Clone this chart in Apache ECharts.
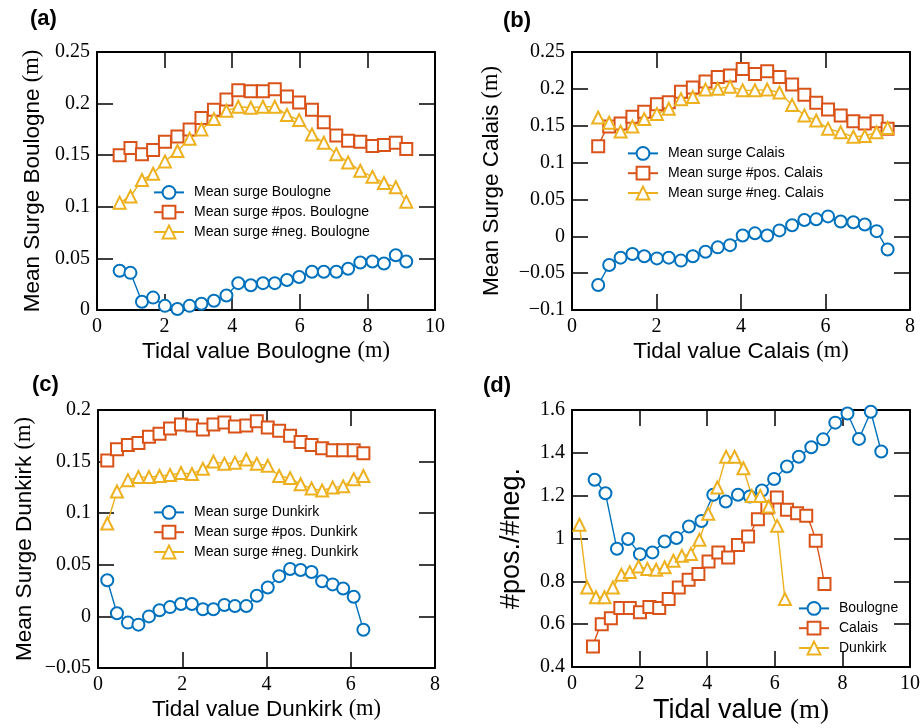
<!DOCTYPE html>
<html>
<head>
<meta charset="utf-8" />
<title>Mean surge vs tidal value</title>
<script src="https://cdn.jsdelivr.net/npm/echarts@6/dist/echarts.min.js"></script>
<style>
  html, body { margin: 0; padding: 0; background: #fff; }
  #main { width: 923px; height: 728px; }
</style>
</head>
<body>
<div id="main"></div>
<script>
// tidal values (m) for each station
var xBoulogne = [0.67, 0.99, 1.33, 1.66, 2.01, 2.38, 2.74, 3.09, 3.46, 3.83, 4.18, 4.55, 4.91, 5.26, 5.62, 5.98, 6.36, 6.71, 7.08, 7.43, 7.79, 8.15, 8.49, 8.84, 9.15];
var xCalais = [0.62, 0.88, 1.15, 1.43, 1.71, 2.01, 2.29, 2.58, 2.86, 3.16, 3.45, 3.74, 4.04, 4.33, 4.62, 4.91, 5.21, 5.5, 5.78, 6.06, 6.36, 6.66, 6.93, 7.21, 7.47];
var xDunkirk = [0.22, 0.45, 0.71, 0.96, 1.21, 1.46, 1.71, 1.97, 2.23, 2.49, 2.74, 3.0, 3.25, 3.52, 3.77, 4.03, 4.3, 4.56, 4.81, 5.07, 5.32, 5.57, 5.82, 6.07, 6.3];

// (a) Boulogne
var meanB = [0.038, 0.036, 0.008, 0.012, 0.004, 0.001, 0.004, 0.006, 0.009, 0.014, 0.026, 0.024, 0.026, 0.026, 0.029, 0.032, 0.037, 0.037, 0.037, 0.040, 0.046, 0.047, 0.045, 0.053, 0.047];
var posB = [0.150, 0.157, 0.151, 0.155, 0.163, 0.168, 0.175, 0.186, 0.194, 0.204, 0.213, 0.212, 0.212, 0.214, 0.207, 0.201, 0.194, 0.182, 0.169, 0.164, 0.163, 0.159, 0.160, 0.162, 0.156];
var negB = [0.104, 0.110, 0.126, 0.132, 0.144, 0.154, 0.166, 0.175, 0.185, 0.193, 0.197, 0.196, 0.197, 0.197, 0.189, 0.184, 0.170, 0.162, 0.151, 0.143, 0.135, 0.129, 0.123, 0.119, 0.105];

// (b) Calais
var meanC = [-0.066, -0.039, -0.029, -0.024, -0.027, -0.030, -0.029, -0.033, -0.027, -0.021, -0.015, -0.012, 0.001, 0.004, 0.001, 0.008, 0.015, 0.022, 0.023, 0.027, 0.020, 0.019, 0.016, 0.007, -0.018];
var posC = [0.122, 0.149, 0.153, 0.162, 0.169, 0.179, 0.182, 0.196, 0.202, 0.210, 0.216, 0.218, 0.227, 0.220, 0.224, 0.216, 0.206, 0.192, 0.181, 0.172, 0.164, 0.156, 0.153, 0.156, 0.146];
var negC = [0.161, 0.154, 0.142, 0.149, 0.159, 0.166, 0.173, 0.186, 0.189, 0.199, 0.200, 0.203, 0.198, 0.198, 0.199, 0.195, 0.178, 0.164, 0.157, 0.146, 0.141, 0.135, 0.136, 0.141, 0.147];

// (c) Dunkirk
var meanD = [0.035, 0.003, -0.006, -0.008, 0.000, 0.006, 0.009, 0.012, 0.012, 0.007, 0.007, 0.011, 0.010, 0.010, 0.020, 0.028, 0.039, 0.046, 0.045, 0.043, 0.034, 0.031, 0.027, 0.019, -0.013];
var posD = [0.151, 0.162, 0.166, 0.168, 0.174, 0.177, 0.182, 0.186, 0.185, 0.181, 0.186, 0.188, 0.184, 0.185, 0.189, 0.183, 0.180, 0.175, 0.169, 0.166, 0.163, 0.161, 0.161, 0.161, 0.158];
var negD = [0.090, 0.121, 0.132, 0.135, 0.135, 0.136, 0.137, 0.139, 0.138, 0.143, 0.150, 0.148, 0.149, 0.152, 0.148, 0.146, 0.136, 0.134, 0.128, 0.124, 0.122, 0.125, 0.126, 0.133, 0.136];

// (d) #pos./#neg.
var ratioB = [1.274, 1.211, 0.952, 0.998, 0.927, 0.935, 0.986, 1.002, 1.056, 1.082, 1.204, 1.173, 1.204, 1.196, 1.224, 1.278, 1.336, 1.382, 1.426, 1.463, 1.541, 1.584, 1.465, 1.592, 1.406];
var ratioC = [0.496, 0.600, 0.628, 0.675, 0.675, 0.656, 0.680, 0.675, 0.717, 0.771, 0.807, 0.834, 0.893, 0.935, 0.911, 0.970, 1.009, 1.090, 1.145, 1.191, 1.134, 1.118, 1.106, 0.989, 0.787];
var ratioD = [1.064, 0.771, 0.726, 0.726, 0.771, 0.831, 0.843, 0.869, 0.858, 0.854, 0.866, 0.896, 0.919, 0.928, 0.994, 1.115, 1.238, 1.382, 1.382, 1.328, 1.199, 1.199, 1.149, 1.059, 0.717];

var BLUE = '#0072BD', ORANGE = '#D95319', YELLOW = '#EDB120';
var SANS = '"Liberation Sans", Arial, sans-serif';
var SERIF = '"Liberation Serif", "Times New Roman", serif';

// grid boxes + axis ranges
var panels = [
    { left: 97, top: 52, width: 338, height: 258, xmax: 10, ymin: 0, ymax: 0.25, yint: 0.05,
      xname: 'Tidal value Boulogne ', yname: 'Mean Surge Boulogne ', ygap: 53, fs: 22.5 },
    { left: 572, top: 52, width: 338, height: 258, xmax: 8, ymin: -0.1, ymax: 0.25, yint: 0.05,
      xname: 'Tidal value Calais ', yname: 'Mean Surge Calais ', ygap: 69, fs: 22.5 },
    { left: 98, top: 410, width: 337, height: 258, xmax: 8, ymin: -0.05, ymax: 0.2, yint: 0.05,
      xname: 'Tidal value Dunkirk ', yname: 'Mean Surge Dunkirk ', ygap: 62, fs: 22.5 },
    { left: 572, top: 410, width: 338, height: 257, xmax: 10, ymin: 0.4, ymax: 1.6, yint: 0.2,
      xname: 'Tidal value ', yname: '#pos./#neg.', ygap: 47, fs: 27 }
];

function fmt(v) {
    return String(+v.toFixed(2)).replace('-', '\u2212');
}

function axisBase(show) {
    return {
        type: 'value',
        axisLine: { show: true, onZero: false, lineStyle: { color: '#000', width: 2 } },
        axisTick: { show: true, inside: true, length: 16, lineStyle: { color: '#000', width: 1.5 } },
        axisLabel: { show: show, color: '#000', fontFamily: SERIF, fontSize: 20, margin: 7, formatter: fmt },
        splitLine: { show: false }
    };
}

var grids = [], xAxes = [], yAxes = [];
panels.forEach(function (p, g) {
    grids.push({ left: p.left, top: p.top, width: p.width, height: p.height, outerBoundsMode: 'none' });
    var rich = {
        s: { fontFamily: SANS, fontSize: p.fs, color: '#000' },
        m: { fontFamily: SERIF, fontSize: p.fs, color: '#000' }
    };
    var xb = axisBase(true);
    Object.assign(xb, { gridIndex: g, position: 'bottom', min: 0, max: p.xmax, interval: 2,
        name: '{s|' + p.xname + '}{m|(m)}', nameLocation: 'middle', nameGap: 30,
        nameTextStyle: { rich: rich } });
    var xt = axisBase(false);
    Object.assign(xt, { gridIndex: g, position: 'top', min: 0, max: p.xmax, interval: 2 });
    var yl = axisBase(true);
    var yn = g === 3 ? '{s|' + p.yname + '}' : '{s|' + p.yname + '}{m|(m)}';
    Object.assign(yl, { gridIndex: g, position: 'left', min: p.ymin, max: p.ymax, interval: p.yint,
        name: yn, nameLocation: 'middle', nameGap: p.ygap, nameTextStyle: { rich: rich } });
    var yr = axisBase(false);
    Object.assign(yr, { gridIndex: g, position: 'right', min: p.ymin, max: p.ymax, interval: p.yint });
    xAxes.push(xb, xt);
    yAxes.push(yl, yr);
});

function mk(name, xs, ys, color, symbol, g, smooth) {
    return {
        type: 'line',
        name: name,
        xAxisIndex: g * 2,
        yAxisIndex: g * 2,
        data: xs.map(function (x, i) { return [x, ys[i]]; }),
        symbol: symbol,
        symbolSize: 12,
        showAllSymbol: true,
        smooth: smooth ? 0.35 : false,
        lineStyle: { color: color, width: 1.4 },
        itemStyle: { color: color, borderColor: color, borderWidth: 1.5 }
    };
}

var series = [
    mk('Mean surge Boulogne', xBoulogne, meanB, BLUE, 'emptyCircle', 0),
    mk('Mean surge #pos. Boulogne', xBoulogne, posB, ORANGE, 'emptyRect', 0, true),
    mk('Mean surge #neg. Boulogne', xBoulogne, negB, YELLOW, 'emptyTriangle', 0),
    mk('Mean surge Calais', xCalais, meanC, BLUE, 'emptyCircle', 1),
    mk('Mean surge #pos. Calais', xCalais, posC, ORANGE, 'emptyRect', 1, true),
    mk('Mean surge #neg. Calais', xCalais, negC, YELLOW, 'emptyTriangle', 1),
    mk('Mean surge Dunkirk', xDunkirk, meanD, BLUE, 'emptyCircle', 2),
    mk('Mean surge #pos. Dunkirk', xDunkirk, posD, ORANGE, 'emptyRect', 2, true),
    mk('Mean surge #neg. Dunkirk', xDunkirk, negD, YELLOW, 'emptyTriangle', 2),
    mk('Boulogne', xBoulogne, ratioB, BLUE, 'emptyCircle', 3),
    mk('Calais', xCalais, ratioC, ORANGE, 'emptyRect', 3, true),
    mk('Dunkirk', xDunkirk, ratioD, YELLOW, 'emptyTriangle', 3)
];

function legend(names, left, top, fs) {
    return {
        data: names, left: left, top: top, orient: 'vertical',
        itemWidth: 30, itemHeight: 16, itemGap: 5, padding: 0,
        selectedMode: false,
        textStyle: { fontFamily: SANS, fontSize: fs, color: '#000', padding: [0, 0, 0, 5] }
    };
}

var legends = [
    legend(['Mean surge Boulogne', 'Mean surge #pos. Boulogne', 'Mean surge #neg. Boulogne'], 153, 185, 14),
    legend(['Mean surge Calais', 'Mean surge #pos. Calais', 'Mean surge #neg. Calais'], 627, 146, 14),
    legend(['Mean surge Dunkirk', 'Mean surge #pos. Dunkirk', 'Mean surge #neg. Dunkirk'], 153, 505, 14),
    legend(['Boulogne', 'Calais', 'Dunkirk'], 798, 601, 14)
];

function panelLabel(t, left, top) {
    return { text: t, left: left, top: top, padding: 0,
        textStyle: { fontFamily: SANS, fontSize: 22, fontWeight: 'bold', color: '#000' } };
}

var chart = echarts.init(document.getElementById('main'));
chart.setOption({
    animation: false,
    backgroundColor: '#fff',
    title: [panelLabel('(a)', 30, 8), panelLabel('(b)', 503, 10), panelLabel('(c)', 32, 374), panelLabel('(d)', 483, 375)],
    legend: legends,
    grid: grids,
    xAxis: xAxes,
    yAxis: yAxes,
    series: series
});
</script>
</body>
</html>
